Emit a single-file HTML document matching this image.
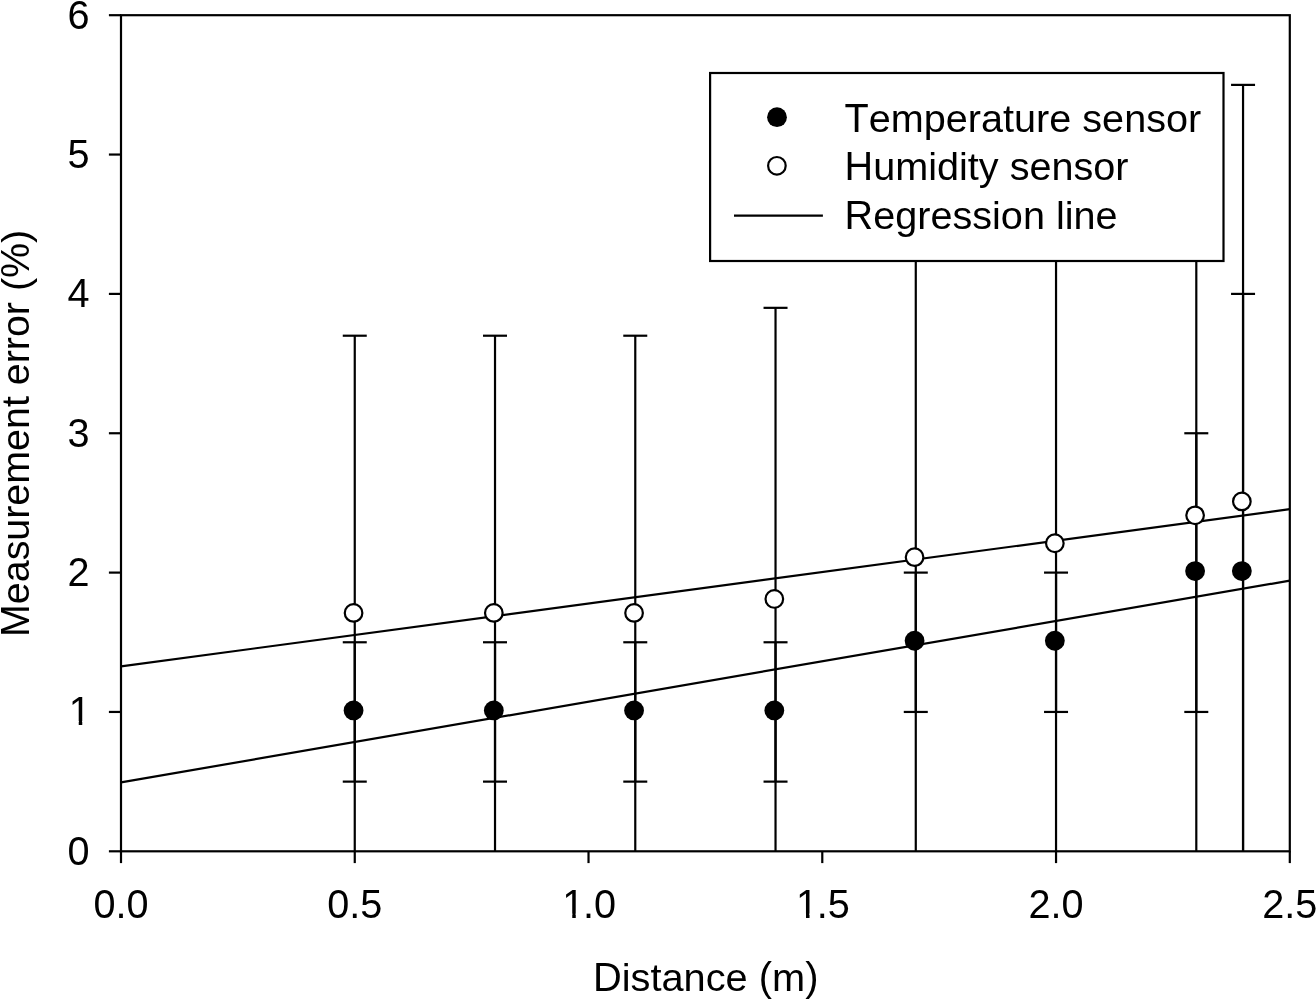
<!DOCTYPE html><html><head><meta charset="utf-8"><title>Measurement error vs distance</title><style>html,body{margin:0;padding:0;background:#fff;}body{width:1316px;height:1000px;overflow:hidden;}svg{display:block;will-change:transform;}text{font-family:"Liberation Sans",sans-serif;fill:#000;font-kerning:none;font-feature-settings:"kern" 0;}</style></head><body>
<svg width="1316" height="1000" viewBox="0 0 1316 1000">
<defs><clipPath id="c1" clipPathUnits="userSpaceOnUse"><rect x="-5" y="-40" width="40" height="35.839"/><rect x="9.966" y="-6" width="3.502" height="12"/></clipPath></defs>
<rect x="0" y="0" width="1316" height="1000" fill="#fff"/>
<g stroke="#000" stroke-width="2.2" fill="none"><line x1="354.76" y1="851.30" x2="354.76" y2="335.71"/><line x1="342.76" y1="335.71" x2="366.76" y2="335.71"/><line x1="495.02" y1="851.30" x2="495.02" y2="335.71"/><line x1="483.02" y1="335.71" x2="507.02" y2="335.71"/><line x1="635.27" y1="851.30" x2="635.27" y2="335.71"/><line x1="623.27" y1="335.71" x2="647.27" y2="335.71"/><line x1="775.53" y1="851.30" x2="775.53" y2="307.84"/><line x1="763.53" y1="307.84" x2="787.53" y2="307.84"/><line x1="915.78" y1="851.30" x2="915.78" y2="182.42"/><line x1="903.78" y1="182.42" x2="927.78" y2="182.42"/><line x1="1056.04" y1="851.30" x2="1056.04" y2="168.49"/><line x1="1044.04" y1="168.49" x2="1068.04" y2="168.49"/><line x1="1196.30" y1="851.30" x2="1196.30" y2="126.68"/><line x1="1184.30" y1="126.68" x2="1208.30" y2="126.68"/><line x1="1243.05" y1="851.30" x2="1243.05" y2="84.88"/><line x1="1231.05" y1="84.88" x2="1255.05" y2="84.88"/><line x1="354.76" y1="781.62" x2="354.76" y2="642.27"/><line x1="342.76" y1="781.62" x2="366.76" y2="781.62"/><line x1="342.76" y1="642.27" x2="366.76" y2="642.27"/><line x1="495.02" y1="781.62" x2="495.02" y2="642.27"/><line x1="483.02" y1="781.62" x2="507.02" y2="781.62"/><line x1="483.02" y1="642.27" x2="507.02" y2="642.27"/><line x1="635.27" y1="781.62" x2="635.27" y2="642.27"/><line x1="623.27" y1="781.62" x2="647.27" y2="781.62"/><line x1="623.27" y1="642.27" x2="647.27" y2="642.27"/><line x1="775.53" y1="781.62" x2="775.53" y2="642.27"/><line x1="763.53" y1="781.62" x2="787.53" y2="781.62"/><line x1="763.53" y1="642.27" x2="787.53" y2="642.27"/><line x1="915.78" y1="711.95" x2="915.78" y2="572.60"/><line x1="903.78" y1="711.95" x2="927.78" y2="711.95"/><line x1="903.78" y1="572.60" x2="927.78" y2="572.60"/><line x1="1056.04" y1="711.95" x2="1056.04" y2="572.60"/><line x1="1044.04" y1="711.95" x2="1068.04" y2="711.95"/><line x1="1044.04" y1="572.60" x2="1068.04" y2="572.60"/><line x1="1196.30" y1="711.95" x2="1196.30" y2="433.25"/><line x1="1184.30" y1="711.95" x2="1208.30" y2="711.95"/><line x1="1184.30" y1="433.25" x2="1208.30" y2="433.25"/><line x1="1243.05" y1="851.30" x2="1243.05" y2="293.90"/><line x1="1231.05" y1="293.90" x2="1255.05" y2="293.90"/></g>
<g stroke="#000" stroke-width="2.2">
<line x1="121.00" y1="666.4" x2="1289.80" y2="509.2"/>
<line x1="121.00" y1="782.4" x2="1289.80" y2="580.6"/>
</g>
<circle cx="353.56" cy="612.90" r="8.80" fill="#fff" stroke="#000" stroke-width="2.2"/>
<circle cx="493.82" cy="612.90" r="8.80" fill="#fff" stroke="#000" stroke-width="2.2"/>
<circle cx="634.07" cy="612.90" r="8.80" fill="#fff" stroke="#000" stroke-width="2.2"/>
<circle cx="774.33" cy="598.97" r="8.80" fill="#fff" stroke="#000" stroke-width="2.2"/>
<circle cx="914.58" cy="557.16" r="8.80" fill="#fff" stroke="#000" stroke-width="2.2"/>
<circle cx="1054.84" cy="543.23" r="8.80" fill="#fff" stroke="#000" stroke-width="2.2"/>
<circle cx="1195.10" cy="515.36" r="8.80" fill="#fff" stroke="#000" stroke-width="2.2"/>
<circle cx="1241.85" cy="501.42" r="8.80" fill="#fff" stroke="#000" stroke-width="2.2"/>
<circle cx="353.56" cy="710.45" r="9.90" fill="#000"/>
<circle cx="493.82" cy="710.45" r="9.90" fill="#000"/>
<circle cx="634.07" cy="710.45" r="9.90" fill="#000"/>
<circle cx="774.33" cy="710.45" r="9.90" fill="#000"/>
<circle cx="914.58" cy="640.77" r="9.90" fill="#000"/>
<circle cx="1054.84" cy="640.77" r="9.90" fill="#000"/>
<circle cx="1195.10" cy="571.10" r="9.90" fill="#000"/>
<circle cx="1241.85" cy="571.10" r="9.90" fill="#000"/>
<rect x="121.00" y="15.20" width="1168.80" height="836.10" fill="none" stroke="#000" stroke-width="2.2"/>
<g stroke="#000" stroke-width="2.2"><line x1="108.9" y1="851.30" x2="121.00" y2="851.30"/><line x1="108.9" y1="711.95" x2="121.00" y2="711.95"/><line x1="108.9" y1="572.60" x2="121.00" y2="572.60"/><line x1="108.9" y1="433.25" x2="121.00" y2="433.25"/><line x1="108.9" y1="293.90" x2="121.00" y2="293.90"/><line x1="108.9" y1="154.55" x2="121.00" y2="154.55"/><line x1="108.9" y1="15.20" x2="121.00" y2="15.20"/><line x1="121.00" y1="851.30" x2="121.00" y2="863.1"/><line x1="354.76" y1="851.30" x2="354.76" y2="863.1"/><line x1="588.52" y1="851.30" x2="588.52" y2="863.1"/><line x1="822.28" y1="851.30" x2="822.28" y2="863.1"/><line x1="1056.04" y1="851.30" x2="1056.04" y2="863.1"/><line x1="1289.80" y1="851.30" x2="1289.80" y2="863.1"/></g>
<text transform="translate(67.46,864.70) scale(1,1.040)" font-size="39.63">0</text>
<text transform="translate(68.78,725.35) scale(1,1.040)" font-size="39.63" clip-path="url(#c1)">1</text>
<text transform="translate(67.46,586.00) scale(1,1.040)" font-size="39.63">2</text>
<text transform="translate(67.46,446.65) scale(1,1.040)" font-size="39.63">3</text>
<text transform="translate(67.46,307.30) scale(1,1.040)" font-size="39.63">4</text>
<text transform="translate(67.46,167.95) scale(1,1.040)" font-size="39.63">5</text>
<text transform="translate(67.46,28.60) scale(1,1.040)" font-size="39.63">6</text>
<text transform="translate(93.45,917.80) scale(1,1.040)" font-size="39.63">0.0</text>
<text transform="translate(327.21,917.80) scale(1,1.040)" font-size="39.63">0.5</text>
<text transform="translate(562.29,917.80) scale(1,1.040)" font-size="39.63" clip-path="url(#c1)">1</text><text transform="translate(583.01,917.80) scale(1,1.040)" font-size="39.63">.</text><text transform="translate(594.03,917.80) scale(1,1.040)" font-size="39.63">0</text>
<text transform="translate(796.05,917.80) scale(1,1.040)" font-size="39.63" clip-path="url(#c1)">1</text><text transform="translate(816.77,917.80) scale(1,1.040)" font-size="39.63">.</text><text transform="translate(827.79,917.80) scale(1,1.040)" font-size="39.63">5</text>
<text transform="translate(1028.49,917.80) scale(1,1.040)" font-size="39.63">2.0</text>
<text transform="translate(1262.25,917.80) scale(1,1.040)" font-size="39.63">2.5</text>
<text transform="translate(592.94,991.00) scale(1,1.040)" font-size="39.80">D</text><text transform="translate(621.68,991.00) scale(1,0.980)" font-size="39.80">istance </text><text transform="translate(758.84,991.00)" font-size="39.80">(</text><text transform="translate(772.10,991.00) scale(1,0.980)" font-size="39.80">m</text><text transform="translate(805.25,991.00)" font-size="39.80">)</text>
<text transform="translate(29.20,637.00) rotate(-90) scale(1,1.040)" font-size="39.40">M</text><text transform="translate(29.20,604.18) rotate(-90) scale(1,0.980)" font-size="39.40">easurement error </text><text transform="translate(29.20,291.04) rotate(-90)" font-size="39.40">(</text><text transform="translate(29.20,277.92) rotate(-90) scale(1,1.040)" font-size="39.40">%</text><text transform="translate(29.20,242.88) rotate(-90)" font-size="39.40">)</text>
<rect x="710.1" y="73" width="513.4" height="188" fill="#fff" stroke="#000" stroke-width="2.2"/>
<circle cx="777" cy="117.2" r="9.90" fill="#000"/>
<circle cx="776.9" cy="165.8" r="8.80" fill="#fff" stroke="#000" stroke-width="2.2"/>
<line x1="734" y1="215.7" x2="822.9" y2="215.7" stroke="#000" stroke-width="2.2"/>
<text transform="translate(844.53,131.60) scale(1,1.040)" font-size="39.63">T</text><text transform="translate(868.74,131.60) scale(1,0.980)" font-size="39.63">emperature sensor</text>
<text transform="translate(844.53,180.00) scale(1,1.040)" font-size="39.63">H</text><text transform="translate(873.15,180.00) scale(1,0.980)" font-size="39.63">umidity sensor</text>
<text transform="translate(844.53,228.70) scale(1,1.040)" font-size="39.63">R</text><text transform="translate(873.15,228.70) scale(1,0.980)" font-size="39.63">egression line</text>
</svg></body></html>
